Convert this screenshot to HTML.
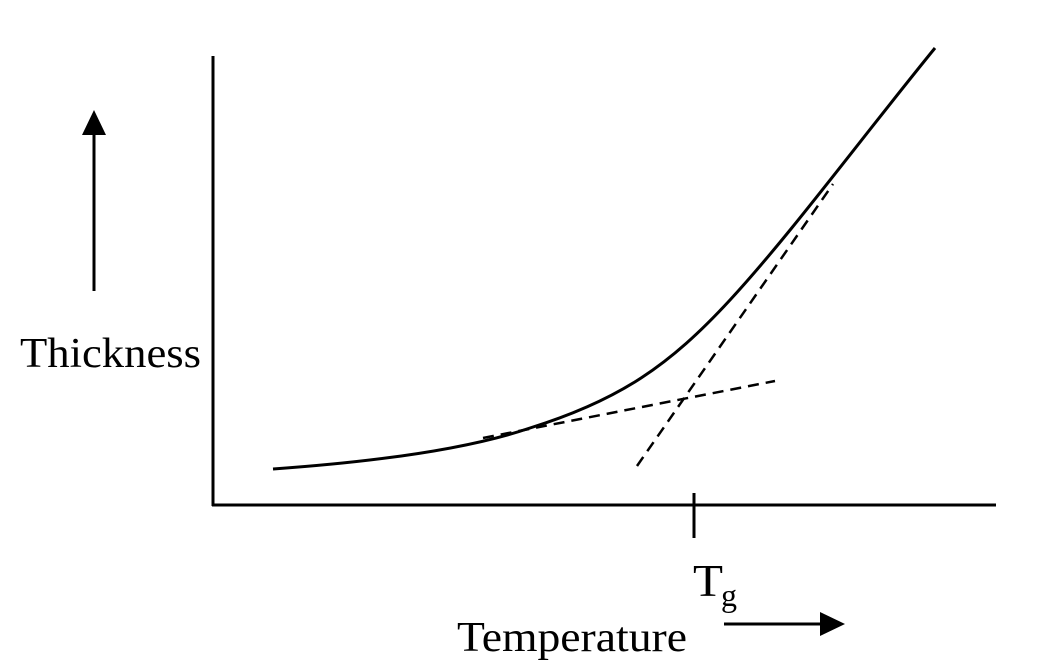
<!DOCTYPE html>
<html><head><style>body{margin:0;background:#fff}svg{display:block}</style></head><body>
<svg width="1061" height="661" xmlns="http://www.w3.org/2000/svg">
<g stroke="#000" stroke-width="3" fill="none">
<line x1="213" y1="56" x2="213" y2="506"/>
<line x1="212" y1="505" x2="996" y2="505"/>
<line x1="694" y1="493" x2="694" y2="538"/>
<path d="M273,469 C400,460 480,445 530,428 C620,400 670,365 730,300 C790,235 860,140 935,48"/>
<g stroke-width="2.5" stroke-dasharray="11,7">
<line x1="483" y1="438" x2="775" y2="381"/>
<line x1="637" y1="466" x2="833" y2="184"/>
</g>
<line x1="94" y1="291" x2="94" y2="132"/>
<line x1="724" y1="624" x2="822" y2="624"/>
</g>
<polygon points="82,135 106,135 94,110" fill="#000"/>
<polygon points="820,612 820,636 845,624" fill="#000"/>
<g font-family="Liberation Serif, serif" font-size="42" fill="#000">
<text x="20" y="367" textLength="181" lengthAdjust="spacingAndGlyphs">Thickness</text>
<text x="457" y="651" textLength="230" lengthAdjust="spacingAndGlyphs">Temperature</text>
<text x="693" y="596" font-size="46" textLength="30" lengthAdjust="spacingAndGlyphs">T</text>
<text x="721" y="606" font-size="32">g</text>
</g>
</svg>
</body></html>
